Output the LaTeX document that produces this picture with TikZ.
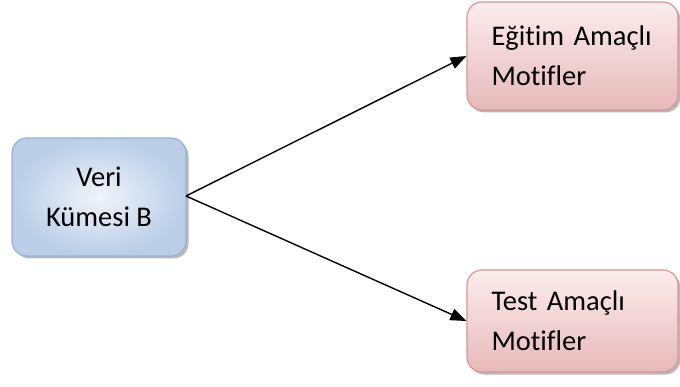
\documentclass[tikz,border=0pt]{standalone}
\usepackage{fontspec}
\setmainfont[RawFeature={-liga;-dlig;-clig}]{Carlito}
\usetikzlibrary{arrows.meta,shadows}
\definecolor{blueedge}{HTML}{95B3D7}
\definecolor{bluein}{HTML}{F0F4FA}
\definecolor{blueout}{HTML}{BACEE7}
\definecolor{pinkedge}{HTML}{D99594}
\definecolor{pinktop}{HTML}{FCEDED}
\definecolor{pinkbot}{HTML}{E6B9B8}
\tikzset{
  boxbase/.style={rounded corners=15pt, line width=1.2pt, inner sep=0pt,
    font=\fontsize{28.5}{40}\selectfont,
    drop shadow={shadow xshift=2.5pt, shadow yshift=-2.5pt, fill=black!45, opacity=0.6}},
  bluebox/.style={boxbase, draw=blueedge, shading=radial, inner color=bluein, outer color=blueout,
    align=center},
  pinkbox/.style={boxbase, draw=pinkedge, top color=pinktop, bottom color=pinkbot,
    align=left, text width=162pt},
  conn/.style={line width=1.4pt, -{Triangle[length=16pt,width=12pt]}}
}
\begin{document}
\begin{tikzpicture}[x=1pt,y=-1pt]
\useasboundingbox (0,0) rectangle (680,387);
\node[bluebox, minimum width=174pt, minimum height=118pt] (src) at (99,197) {Veri\\Kümesi B};
\node[pinkbox, minimum width=211pt, minimum height=108pt] (train) at (572.5,56) {Eğitim Amaçlı\\Motifler};
\node[pinkbox, minimum width=211pt, minimum height=102pt] (test) at (572.5,321) {Test Amaçlı\\Motifler};
\coordinate (s) at (186,196);
\draw[conn] (s) -- (train.west);
\draw[conn] (s) -- (test.west);
\end{tikzpicture}
\end{document}
